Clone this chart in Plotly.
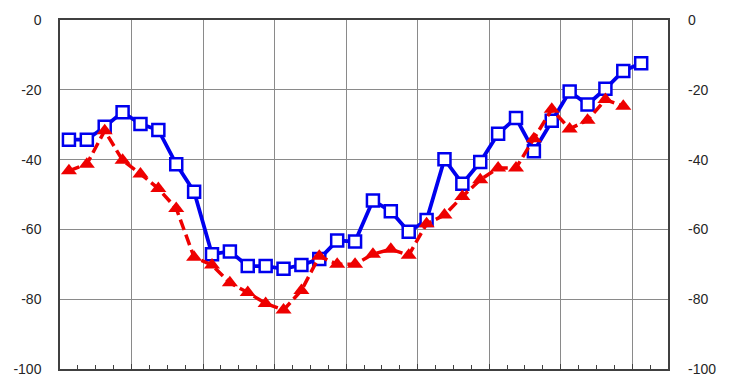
import numpy as np
import plotly.graph_objects as go

# Data
blue_values = [-34.3, -34.3, -30.6, -26.4, -29.8, -31.5, -41.3, -49.2, -67.1, -66.3,
               -70.5, -70.5, -71.3, -70.2, -68.5, -63.2, -63.5, -51.7, -54.8, -60.7,
               -57.3, -39.9, -46.9, -40.7, -32.6, -28.1, -37.6, -28.9, -20.5, -24.2,
               -19.7, -14.6, -12.4]
red_values = [-43.2, -41.3, -31.7, -40.2, -44.1, -48.3, -54.0, -68.0, -70.2, -75.3,
              -78.1, -81.2, -83.1, -77.5, -67.7, -70.0, -70.0, -67.1, -65.7, -67.4,
              -58.4, -55.9, -50.6, -45.8, -42.4, -42.4, -34.0, -25.6, -31.2, -28.7,
              -22.8, -24.7]
n_slots = 34
y_ticks = [0, -20, -40, -60, -80, -100]

xb = np.arange(len(blue_values)) + 0.5
xr = np.arange(len(red_values)) + 0.5

fig = go.Figure()
fig.add_trace(go.Scatter(
    x=xb, y=blue_values, mode="lines",
    line=dict(color="#0000ee", width=3.8),
    showlegend=False, hoverinfo="skip"))
fig.add_trace(go.Scatter(
    x=xb, y=blue_values, mode="markers",
    marker=dict(symbol="square", size=12, color="white",
                line=dict(color="#0000ee", width=2.5)),
    showlegend=False, hoverinfo="skip"))
fig.add_trace(go.Scatter(
    x=xr, y=red_values, mode="lines+markers", yaxis="y2",
    line=dict(color="#ee0000", width=3.5, dash="11px,5px"),
    marker=dict(symbol="triangle-up", size=14, color="#ee0000"),
    showlegend=False, hoverinfo="skip"))

font = dict(family="Liberation Sans, Arial, sans-serif", size=14, color="#262626")

fig.update_layout(
    width=740, height=389,
    margin=dict(l=60, r=72, t=19, b=14),
    paper_bgcolor="white", plot_bgcolor="white",
    font=font,
    xaxis=dict(range=[0, n_slots], tickmode="linear", tick0=0, dtick=4,
               showgrid=True, gridcolor="#8a8a8a", gridwidth=1,
               showline=True, linecolor="#404040", linewidth=1.5, mirror=True,
               ticks="inside", ticklen=5, tickcolor="#404040",
               showticklabels=False, zeroline=False,
               minor=dict(dtick=1, ticks="inside", ticklen=4, tickcolor="#404040",
                          showgrid=False)),
    yaxis=dict(range=[-100, 0], tickvals=y_ticks, ticktext=[str(v) for v in y_ticks],
               showgrid=True, gridcolor="#8a8a8a", gridwidth=1,
               showline=True, linecolor="#404040", linewidth=1.5, mirror=True,
               zeroline=False, ticks="", ticklabelstandoff=14),
    yaxis2=dict(range=[-100, 0], tickvals=y_ticks, ticktext=[str(v) for v in y_ticks],
                overlaying="y", side="right", showgrid=False, zeroline=False,
                showline=False, ticks="", ticklabelstandoff=19),
)

fig.write_html("out.html")
